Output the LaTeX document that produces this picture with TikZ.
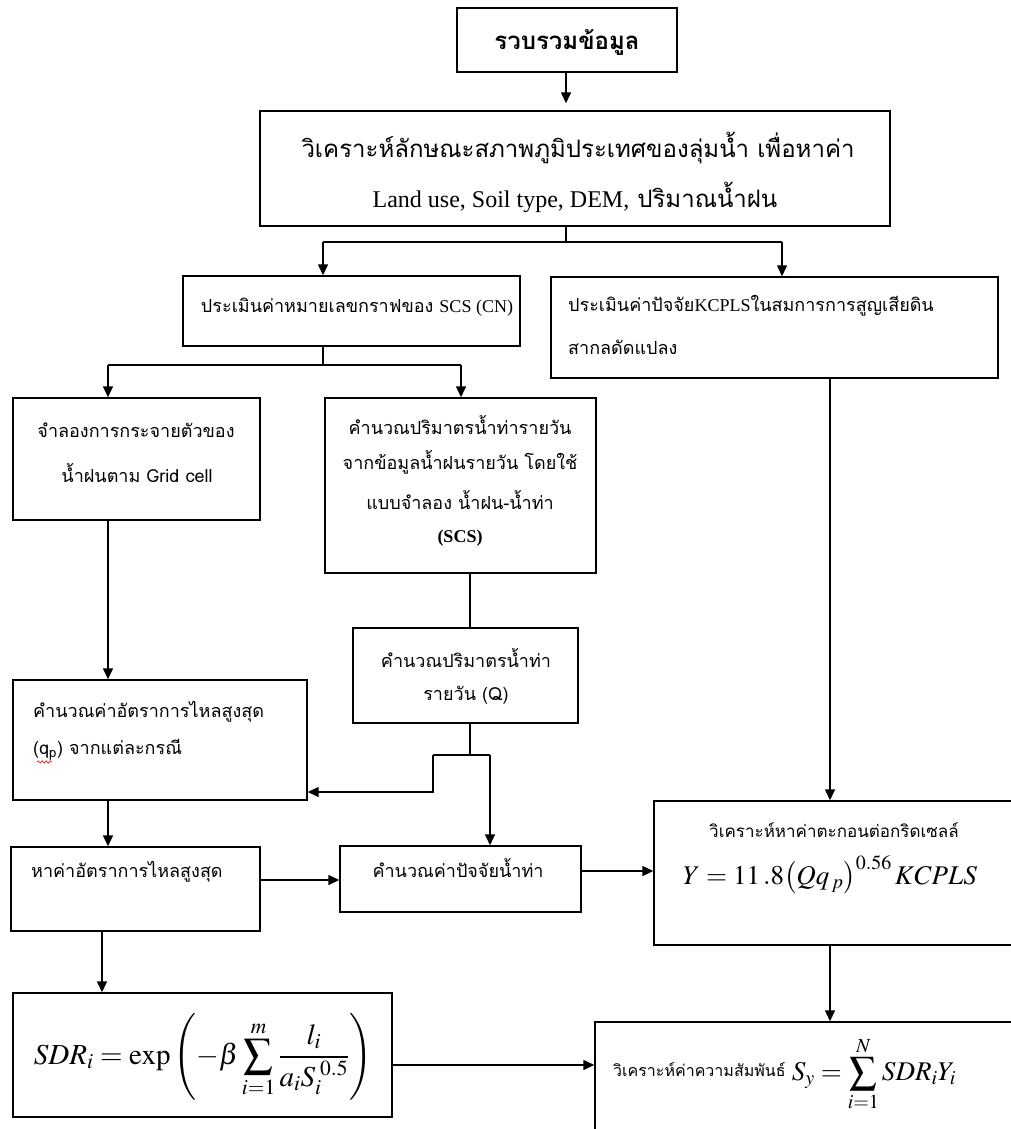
\documentclass[tikz,border=0pt]{standalone}
\usepackage{mathptmx}
\usepackage[no-math]{fontspec}
\setmainfont{Liberation Serif}
\newfontfamily\thai[Script=Thai]{Loma}
\usetikzlibrary{arrows.meta,decorations.pathmorphing}
\tikzset{
  box/.style={draw, line width=1.4pt, inner sep=0pt},
  ln/.style={line width=1.4pt},
  arr/.style={line width=1.4pt, -{Triangle[length=11pt,width=10pt]}},
  txt/.style={inner sep=0pt, font=\thai\fontsize{18}{20}\selectfont},
  big/.style={inner sep=0pt, font=\thai\fontsize{24}{27}\selectfont},
  mth/.style={inner sep=0pt, font=\fontsize{27}{30}\selectfont}
}
\begin{document}
\begin{tikzpicture}[x=1pt,y=-1pt]
\fill[white] (0,0) rectangle (1011,1129);
\useasboundingbox (0,0) rectangle (1011,1129);
% boxes
\node[box, minimum width=220pt, minimum height=64pt]  (b1)  at (567,40) {};
\node[box, minimum width=630pt, minimum height=115pt] (b2)  at (575,168.5) {};
\node[box, minimum width=337pt, minimum height=70pt]  (b3)  at (351.5,311) {};
\node[box, minimum width=447pt, minimum height=101pt] (b4)  at (774.5,327.5) {};
\node[box, minimum width=247pt, minimum height=122pt] (b5)  at (136.5,459) {};
\node[box, minimum width=271pt, minimum height=175pt] (b6)  at (460.5,485.5) {};
\node[box, minimum width=225pt, minimum height=95pt]  (b7)  at (465.5,675.5) {};
\node[box, minimum width=294pt, minimum height=120pt] (b8)  at (160,740) {};
\node[box, minimum width=249pt, minimum height=84pt]  (b10) at (135.5,889) {};
\node[box, minimum width=241pt, minimum height=66pt]  (b11) at (460.5,879) {};
\node[box, minimum width=361pt, minimum height=144pt] (b9)  at (834.5,873) {};
\node[box, minimum width=379pt, minimum height=124pt] (b12) at (202.5,1055) {};
\node[box, minimum width=420pt, minimum height=113pt] (b13) at (805,1078.5) {};
% texts
\node[big, font=\thai\bfseries\fontsize{24}{26}\selectfont] (t1) at (567,42) {รวบรวมข้อมูล};
\node[big] (t2a) at (578,148) {วิเคราะห์ลักษณะสภาพภูมิประเทศของลุ่มน้ำ เพื่อหาค่า};
\node[big] (t2b) at (575,197) {{\rmfamily Land use, Soil type, DEM,} ปริมาณน้ำฝน};
\node[txt] (t3) at (357,307) {ประเมินค่าหมายเลขกราฟของ {\rmfamily SCS (CN)}};
\node[txt, anchor=west] (t4a) at (568,306) {ประเมินค่าปัจจัย{\rmfamily KCPLS}ในสมการการสูญเสียดิน};
\node[txt, anchor=west] (t4b) at (568,347) {สากลดัดแปลง};
\node[txt] (t5a) at (136,430) {จำลองการกระจายตัวของ};
\node[txt] (t5b) at (137,473) {น้ำฝนตาม Grid cell};
\node[txt] (t6a) at (460,425) {คำนวณปริมาตรน้ำท่ารายวัน};
\node[txt] (t6b) at (460,462) {จากข้อมูลน้ำฝนรายวัน โดยใช้};
\node[txt] (t6c) at (460,500) {แบบจำลอง น้ำฝน-น้ำท่า};
\node[txt] (t6d) at (460,538) {\rmfamily\bfseries (SCS)};
\node[txt] (t7a) at (466,658) {คำนวณปริมาตรน้ำท่า};
\node[txt] (t7b) at (466,695) {รายวัน (Q)};
\node[txt, anchor=west] (t8a) at (33,712) {คำนวณค่าอัตราการไหลสูงสุด};
\node[txt, anchor=west] (t8b) at (33,750) {(q\textsubscript{p}) จากแต่ละกรณี};
\draw[red, line width=0.6pt, decorate, decoration={snake, amplitude=1.2pt, segment length=4pt}] (37,762) -- (52,762);
\node[txt, anchor=west] (t10) at (31,872) {หาค่าอัตราการไหลสูงสุด};
\node[txt] (t11) at (458,868) {คำนวณค่าปัจจัยน้ำท่า};
\node[txt, font=\thai\fontsize{17}{19}\selectfont] (t9a) at (834,830) {วิเคราะห์หาค่าตะกอนต่อกริดเซลล์};
\node[mth] (t9b) at (830,875) {$Y = 11\,.8\bigl(Qq_{\,p}\bigr)^{0.56}\,KCPLS$};
\node[mth, font=\fontsize{29}{32}\selectfont] (t12) at (203,1057) {$\displaystyle SDR_i = \exp\left(-\beta\sum_{i=1}^{m}\frac{l_i}{a_iS_i^{\;0.5}}\right)$};
\node[txt, font=\thai\fontsize{16}{18}\selectfont, anchor=west] (t13a) at (613,1070) {วิเคราะห์ค่าความสัมพันธ์};
\node[mth, anchor=west] (t13b) at ([xshift=6pt,yshift=-4pt]t13a.east) {$\displaystyle S_y = \sum_{i=1}^{N} SDR_iY_i$};
% connector coordinates
\coordinate (s1)  at (566,242);
\coordinate (s1L) at (323,242);
\coordinate (s1R) at (782,242);
\coordinate (s2)  at (323,365);
\coordinate (s2L) at (108,365);
\coordinate (s2R) at (461,365);
\coordinate (cK)  at (830,0);
\coordinate (cA)  at (108,0);
\coordinate (cB)  at (470,0);
\coordinate (cC)  at (102,0);
\coordinate (j0)  at (470,755);
\coordinate (j1)  at (433,755);
\coordinate (j2)  at (490,755);
\coordinate (j3)  at (433,792);
\coordinate (r1)  at (0,880);
\coordinate (r2)  at (0,871);
\coordinate (r3)  at (0,1065);
% connectors
\draw[arr, shorten >=7pt] (b1.south -| s1) -- (s1 |- b2.north);
\draw[ln] (b2.south -| s1) -- (s1);
\draw[ln] (s1L) -- (s1R);
\draw[arr] (s1L) -- (s1L |- b3.north);
\draw[arr] (s1R) -- (s1R |- b4.north);
\draw[ln] (b3.south -| s2) -- (s2);
\draw[ln] (s2L) -- (s2R);
\draw[arr] (s2L) -- (s2L |- b5.north);
\draw[arr] (s2R) -- (s2R |- b6.north);
\draw[arr] (b4.south -| cK) -- (cK |- b9.north);
\draw[arr] (b5.south -| cA) -- (cA |- b8.north);
\draw[ln] (b6.south -| cB) -- (cB |- b7.north);
\draw[ln] (b7.south -| cB) -- (j0);
\draw[ln] (j1) -- (j2);
\draw[arr] (j1) -- (j3) -- (j3 -| b8.east);
\draw[arr] (j2) -- (j2 |- b11.north);
\draw[arr] (b8.south -| cA) -- (cA |- b10.north);
\draw[arr] (b10.east |- r1) -- (b11.west |- r1);
\draw[arr] (b11.east |- r2) -- (b9.west |- r2);
\draw[arr] (b10.south -| cC) -- (cC |- b12.north);
\draw[arr] (b9.south -| cK) -- (cK |- b13.north);
\draw[arr] (b12.east |- r3) -- (b13.west |- r3);
\end{tikzpicture}
\end{document}
